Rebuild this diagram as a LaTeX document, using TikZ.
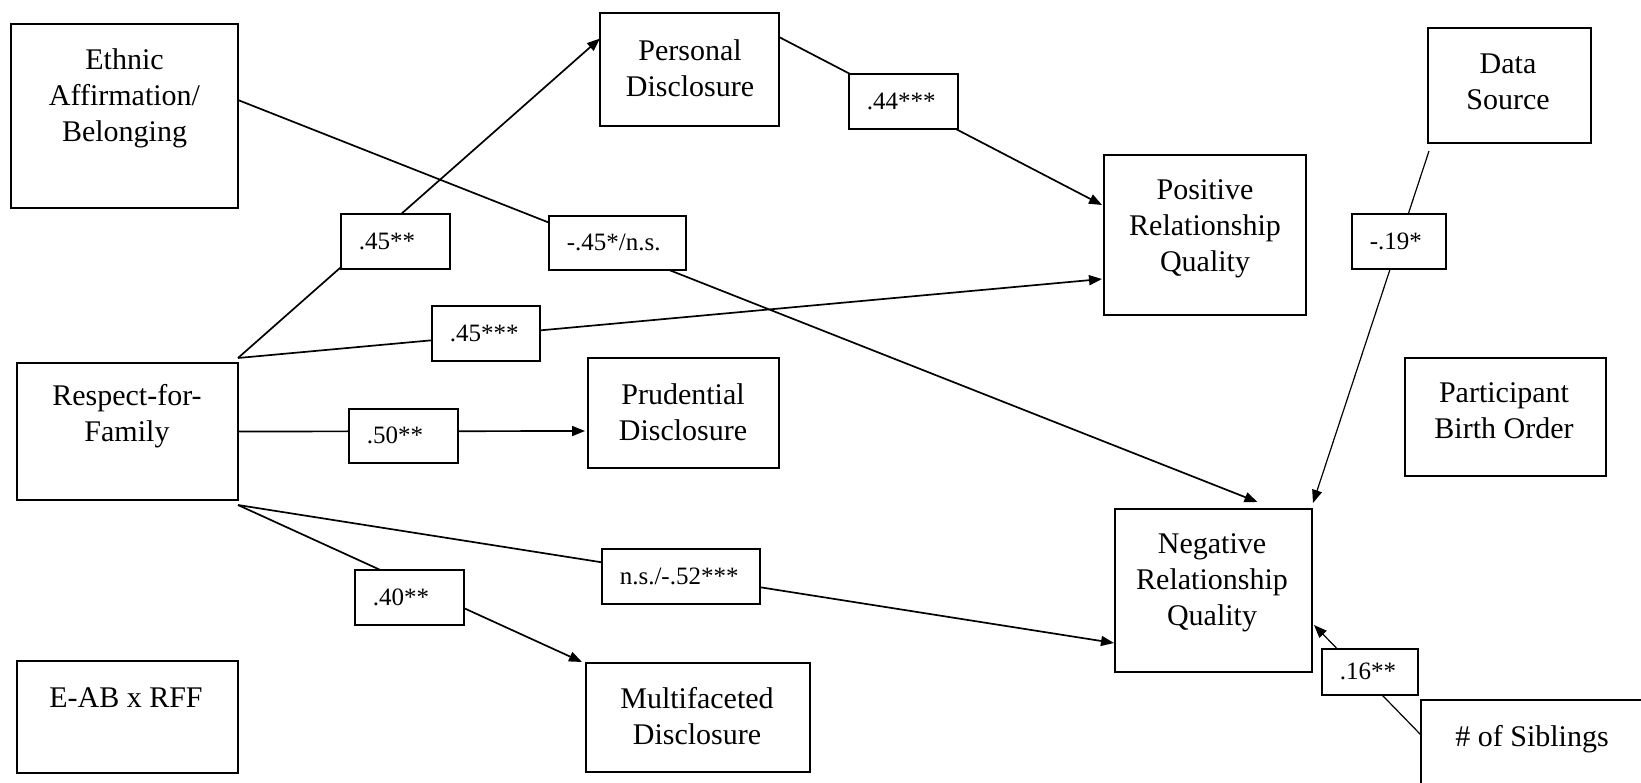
\documentclass[tikz,border=0pt]{standalone}
\usepackage{fontspec}
\setmainfont{Liberation Serif}
\usetikzlibrary{arrows.meta}
\begin{document}
\begin{tikzpicture}[x=1pt,y=-1pt,
  box/.style={draw, line width=1.8pt, anchor=north west, inner sep=0pt, outer sep=0pt},
  txt/.style={align=center, inner sep=0pt, font=\fontsize{30}{36}\selectfont},
  lab/.style={draw, fill=white, line width=1.6pt, anchor=north west, inner xsep=18pt, inner ysep=0pt, align=left, font=\fontsize{25}{30}\selectfont},
  conn/.style={line width=1.7pt},
  thin/.style={line width=1.2pt},
  arr/.style={-{Triangle[length=13pt,width=10pt]}}
]
\clip (0,0) rectangle (1641,782);
\fill[white] (0,0) rectangle (1641,782);

% boxes
\node[box, minimum width=227pt, minimum height=184pt] (eth) at (11,24) {};
\node[box, minimum width=179pt, minimum height=113pt] (pers) at (600,13) {};
\node[box, minimum width=202pt, minimum height=160pt] (pos) at (1104,155) {};
\node[box, minimum width=163pt, minimum height=115pt] (ds) at (1428,28) {};
\node[box, minimum width=221pt, minimum height=137pt] (rff) at (17,363) {};
\node[box, minimum width=191pt, minimum height=110pt] (prud) at (588,358) {};
\node[box, minimum width=201pt, minimum height=118pt] (part) at (1405,358) {};
\node[box, minimum width=197pt, minimum height=163pt] (neg) at (1115,509) {};
\node[box, minimum width=221pt, minimum height=112pt] (eab) at (17,661) {};
\node[box, minimum width=224pt, minimum height=109pt] (multi) at (586,663) {};
\node[box, minimum width=260pt, minimum height=120pt] (sib) at (1421,700) {};

% box texts
\node[txt] (ethT) at (124.5,98) {Ethnic\\Affirmation/\\Belonging};
\node[txt] (persT) at (690,68) {Personal\\Disclosure};
\node[txt] (posT) at (1205,229) {Positive\\Relationship\\Quality};
\node[txt] (dsT) at (1508,82) {Data\\Source};
\node[txt] (rffT) at (127,416) {Respect-for-\\Family};
\node[txt] (prudT) at (683,412) {Prudential\\Disclosure};
\node[txt] (partT) at (1504,411) {Participant\\Birth Order};
\node[txt] (negT) at (1212,583) {Negative\\Relationship\\Quality};
\node[txt] (eabT) at (126,698) {E-AB x RFF};
\node[txt] (multiT) at (697,716) {Multifaceted\\Disclosure};
\node[txt] (sibT) at (1532,739) {\# of Siblings};

% connectors
\draw[conn,arr] ([yshift=16pt]eth.east) -- ([xshift=44pt,yshift=7pt]neg.north);
\draw[conn,arr] ([yshift=5pt]rff.north east) -- ([yshift=31pt]pers.west);
\draw[conn,arr] ([yshift=5pt]rff.north east) -- ([xshift=-2pt,yshift=-44pt]pos.west);
\draw[conn,arr] ([yshift=32.5pt]pers.east) -- ([xshift=-2pt,yshift=30pt]pos.west);
\draw[conn,arr] (rff.east) -- ([xshift=-3pt,yshift=-18pt]prud.west);
\draw[conn,arr] ([yshift=-5pt]rff.south east) -- ([xshift=-4pt,yshift=1pt]multi.north west);
\draw[conn,arr] ([yshift=-5pt]rff.south east) -- ([xshift=-1pt,yshift=-52.5pt]neg.west);
\draw[thin,arr] ([xshift=1pt,yshift=-8pt]ds.south west) -- ([xshift=1pt,yshift=6pt]neg.north east);
\draw[thin,arr] ([yshift=-35pt]sib.north west) -- ([xshift=2pt,yshift=-34.5pt]neg.east);

% coefficient labels
\node[lab, text width=73pt, minimum height=55pt] (l45a) at (340,213) {.45**};
\node[lab, text width=101pt, minimum height=54pt] (l45b) at (548,215) {-.45*/n.s.};
\node[lab, text width=72pt, minimum height=55pt] (l45c) at (431,305) {.45***};
\node[lab, text width=73pt, minimum height=55pt] (l44) at (848,73) {.44***};
\node[lab, text width=58pt, minimum height=55pt] (l19) at (1351,213) {-.19*};
\node[lab, text width=73pt, minimum height=54pt] (l50) at (348,408) {.50**};
\node[lab, text width=73pt, minimum height=55pt] (l40) at (354,569) {.40**};
\node[lab, text width=122pt, minimum height=55pt] (l52) at (601,548) {n.s./-.52***};
\node[lab, text width=60pt, minimum height=46pt] (l16) at (1321,648) {.16**};
\end{tikzpicture}
\end{document}
